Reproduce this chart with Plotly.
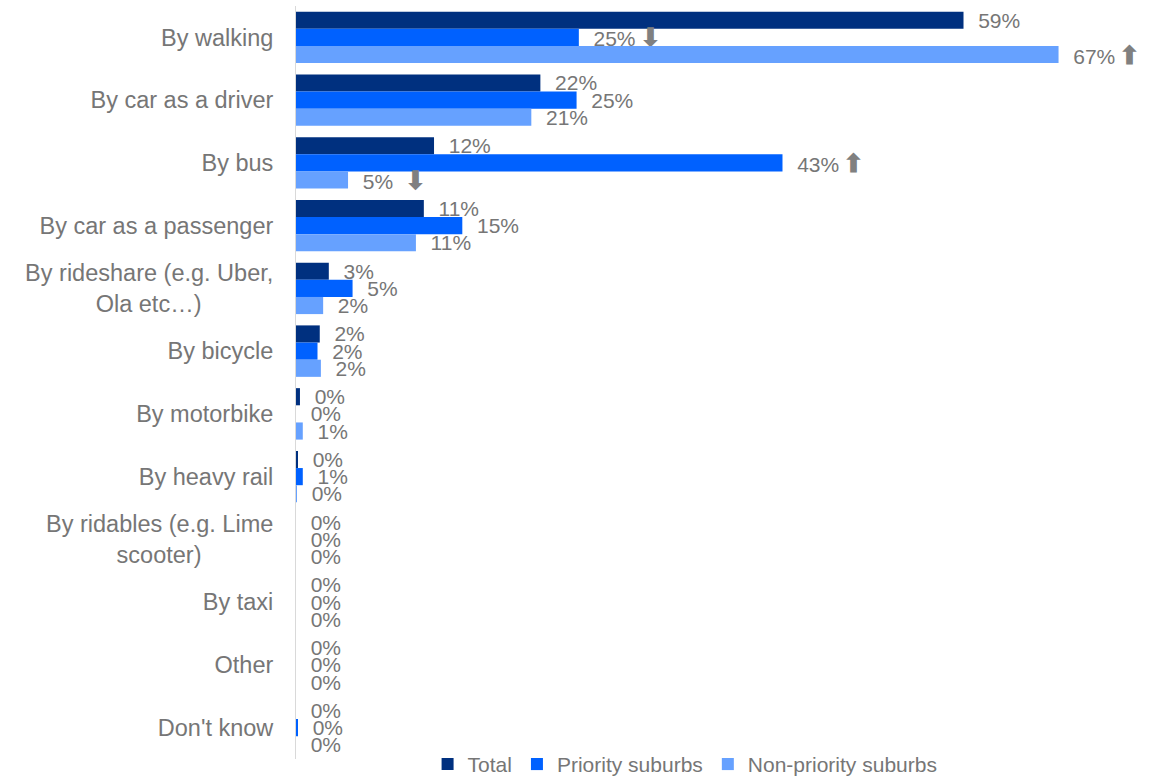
import plotly.graph_objects as go

categories = [
    "By walking",
    "By car as a driver",
    "By bus",
    "By car as a passenger",
    "By rideshare (e.g. Uber,<br>Ola etc…)" + "\u00a0" * 11,
    "By bicycle",
    "By motorbike",
    "By heavy rail",
    "By ridables (e.g. Lime<br>scooter)" + "\u00a0" * 11,
    "By taxi",
    "Other",
    "Don't know",
]

total = [59.0, 21.6, 12.2, 11.3, 2.9, 2.1, 0.35, 0.1, 0, 0, 0, 0]
priority = [25.0, 24.8, 43.0, 14.7, 5.0, 1.9, 0, 0.6, 0, 0, 0, 0.1]
non_priority = [67.4, 20.8, 4.6, 10.6, 2.4, 2.2, 0.6, 0.05, 0, 0, 0, 0]

# significance arrows (vs total)
priority_sig = ["down", "", "up", "", "", "", "", "", "", "", "", ""]
non_priority_sig = ["up", "", "down", "", "", "", "", "", "", "", "", ""]

colors = {"Total": "#00307f", "Priority suburbs": "#0061ff", "Non-priority suburbs": "#66a1ff"}
grey = "#767676"
arrow = {"up": "⬆", "down": "⬇", "": ""}


def labels(vals, sig=None, wide_gap=()):
    out = []
    for i, v in enumerate(vals):
        t = "\u00a0\u00a0" + f"{round(v)}%"
        if sig and sig[i]:
            gap = "\u00a0\u00a0" if i in wide_gap else "\u2009"
            t += gap + f"<span style='color:#808080;font-size:25px;font-weight:bold'>{arrow[sig[i]]}</span>"
        out.append(t)
    return out


fig = go.Figure()
for name, vals, txt in [
    ("Total", total, labels(total)),
    ("Priority suburbs", priority, labels(priority, priority_sig)),
    ("Non-priority suburbs", non_priority, labels(non_priority, non_priority_sig, wide_gap=(2,))),
]:
    fig.add_trace(go.Bar(
        name=name,
        y=categories,
        x=vals,
        orientation="h",
        marker_color=colors[name],
        marker_line_width=0,
        text=txt,
        textposition="outside",
        texttemplate="%{text}",
        textfont=dict(size=21, color=grey),
        constraintext="none",
        cliponaxis=False,
    ))

fig.update_layout(
    width=1160,
    height=782,
    barmode="group",
    bargap=0.18,
    bargroupgap=0,
    plot_bgcolor="white",
    paper_bgcolor="white",
    font=dict(family="Liberation Sans, Arial", color=grey),
    margin=dict(l=296, r=20, t=6, b=23, autoexpand=False),
    showlegend=True,
    legend=dict(
        orientation="h",
        x=0.461,
        xanchor="center",
        y=0.02,
        yanchor="top",
        font=dict(size=21, color=grey),
        itemwidth=30,
        bgcolor="rgba(0,0,0,0)",
    ),
)
fig.update_xaxes(range=[0, 74.6], showgrid=False, zeroline=False, showticklabels=False, showline=False)
fig.update_yaxes(
    autorange="reversed",
    showline=True,
    linecolor="#d9d9d9",
    linewidth=1,
    ticks="",
    ticklabelstandoff=17,
    tickfont=dict(size=23.5, color=grey),
)

fig.write_html(
    "out.html",
    config={"displayModeBar": False},
    post_script="document.body.style.margin='0';",
)
